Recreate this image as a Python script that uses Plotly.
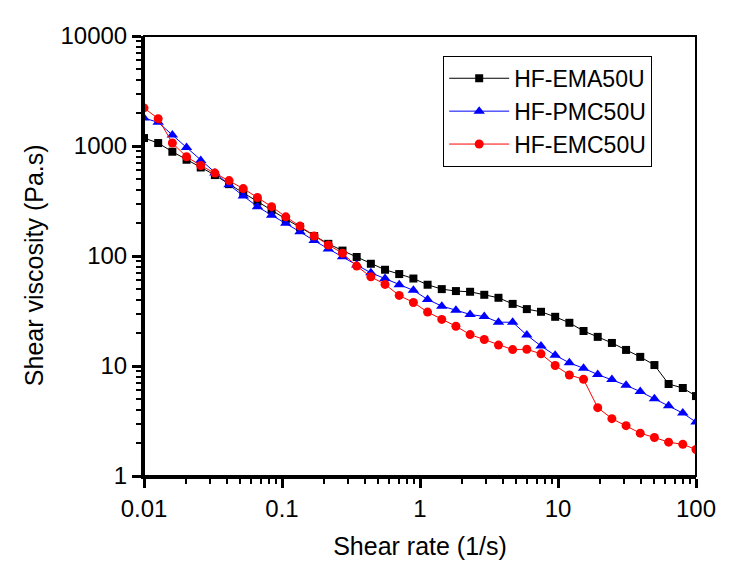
import plotly.graph_objects as go

# Shear rate (1/s), log-spaced sweep
shear_rate = [0.01, 0.01267, 0.01605, 0.02034, 0.02576, 0.03264, 0.04135, 0.05239, 0.06637, 0.08409,
              0.1065, 0.1350, 0.1710, 0.2166, 0.2744, 0.3477, 0.4405, 0.5580, 0.7070, 0.8957,
              1.135, 1.438, 1.821, 2.307, 2.923, 3.704, 4.692, 5.944, 7.531, 9.541,
              12.09, 15.31, 19.40, 24.58, 31.14, 39.45, 49.98, 63.32, 80.23, 100.0]

series_names = ["HF-EMA50U", "HF-PMC50U", "HF-EMC50U"]

visc_ema = [1181, 1064, 887, 750, 638, 544, 450, 373, 312, 261,
            217, 183, 152, 129, 112, 98, 85, 75, 68.5, 62.4,
            54.8, 50, 48, 47.3, 44.4, 41.7, 36.7, 32.9, 31.1, 28,
            24.7, 20.8, 18.4, 16.2, 14.0, 12.1, 10.2, 6.86, 6.31, 5.33]

visc_pmc = [1798, 1640, 1259, 970, 738, 567, 444, 352, 281, 235,
            199, 166, 138, 116, 98.6, 82.8, 70.4, 62.6, 54.8, 48.7,
            40.3, 35.0, 32.2, 29.4, 28.2, 25.0, 25.0, 19.1, 15.2, 12.5,
            10.7, 9.54, 8.36, 7.53, 6.68, 5.85, 5.05, 4.36, 3.73, 3.09]

visc_emc = [2218, 1772, 1064, 798, 665, 567, 485, 410, 340, 281,
            227, 187, 152, 126, 106, 81, 64.7, 55.2, 43.8, 37.8,
            30.9, 26.5, 23.0, 19.3, 17.4, 15.5, 14.1, 14.2, 12.9, 10.1,
            8.29, 7.57, 4.18, 3.32, 2.87, 2.45, 2.24, 2.03, 1.94, 1.74]

x_tickvals = [0.01, 0.1, 1, 10, 100]
x_ticktext = ["0.01", "0.1", "1", "10", "100"]
y_tickvals = [1, 10, 100, 1000, 10000]
y_ticktext = ["1", "10", "100", "1000", "10000"]

FONT = "Arial, Liberation Sans, sans-serif"

fig = go.Figure()
styles = [
    dict(color="#000000", symbol="square", size=8),
    dict(color="#0000FF", symbol="triangle-up", size=10),
    dict(color="#FF0000", symbol="circle", size=9),
]
for name, vals, st in zip(series_names, [visc_ema, visc_pmc, visc_emc], styles):
    fig.add_trace(go.Scatter(
        x=shear_rate, y=vals, name=name, mode="lines+markers",
        line=dict(color=st["color"], width=1),
        marker=dict(color=st["color"], symbol=st["symbol"], size=st["size"]),
    ))

axis_common = dict(
    type="log", showgrid=False, zeroline=False,
    showline=True, linecolor="black", linewidth=3,
    ticks="outside", ticklen=9, tickwidth=3, tickcolor="black",
    tickfont=dict(family=FONT, size=24, color="black"),
    minor=dict(ticks="outside", ticklen=5, tickwidth=2, tickcolor="black", dtick="D1", showgrid=False),
)

fig.update_xaxes(range=[-2, 2], tickvals=x_tickvals, ticktext=x_ticktext,
                 title=dict(text="Shear rate (1/s)", font=dict(family=FONT, size=25, color="black"), standoff=17),
                 **axis_common)
fig.update_yaxes(range=[0, 4], tickvals=y_tickvals, ticktext=y_ticktext, **axis_common)

# y-axis title placed as an annotation (positioned like the original)
fig.add_annotation(text="Shear viscosity (Pa.s)", textangle=-90, showarrow=False,
                   xref="paper", yref="paper", x=-0.199, y=0.4795, xanchor="center", yanchor="middle",
                   font=dict(family=FONT, size=25, color="black"))

# top / right frame
fig.add_shape(type="rect", xref="x domain", yref="y domain", x0=0, x1=1, y0=0, y1=1,
              line=dict(color="black", width=2), layer="above")

fig.update_layout(
    width=738, height=571,
    margin=dict(l=136, r=50, t=28, b=103),
    paper_bgcolor="white", plot_bgcolor="white",
    legend=dict(x=0.542, y=0.955, xanchor="left", yanchor="top",
                bgcolor="white", bordercolor="black", borderwidth=1,
                font=dict(family=FONT, size=23, color="black"),
                tracegroupgap=0, itemwidth=60),
)

fig.write_html("out.html")
